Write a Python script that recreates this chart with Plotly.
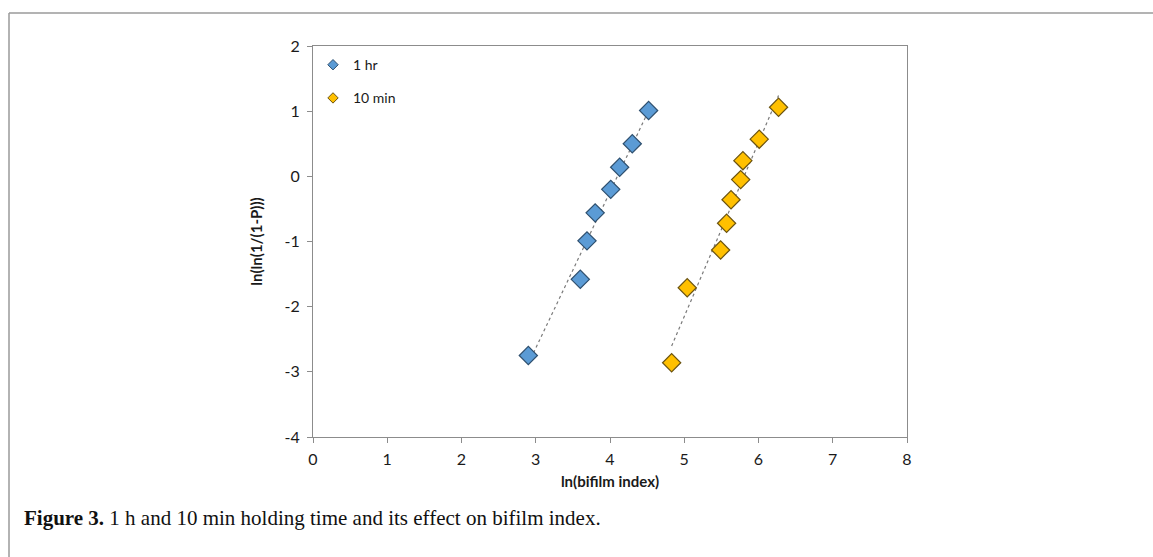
import numpy as np
import plotly.graph_objects as go

# ---- data ----
hr1_x = [2.90, 3.60, 3.69, 3.80, 4.01, 4.13, 4.30, 4.52]
hr1_y = [-2.75, -1.58, -0.99, -0.56, -0.20, 0.14, 0.50, 1.01]
min10_x = [4.83, 5.04, 5.49, 5.57, 5.63, 5.76, 5.79, 6.01, 6.27]
min10_y = [-2.86, -1.71, -1.13, -0.72, -0.36, -0.05, 0.24, 0.57, 1.06]
series_names = ["1 hr", "10 min"]
x_ticks = [0, 1, 2, 3, 4, 5, 6, 7, 8]
y_ticks = [-4, -3, -2, -1, 0, 1, 2]
x_title = "ln(bifilm index)"
y_title = "ln(ln(1/(1-P)))"
caption_bold = "Figure 3."
caption_text = " 1 h and 10 min holding time and its effect on bifilm index."

W, H = 1153, 557
L, R, T, B = 313, 907, 46, 437
BLUE, BLUE_EDGE = "#5B9BD5", "#2E4F6E"
ORANGE, ORANGE_EDGE = "#FFC000", "#6B5310"
FONT = "Lato, 'Open Sans', sans-serif"

def px_x(p):
    return (p - L) / (R - L)

def px_y(p):
    return (B - p) / (B - T)

fig = go.Figure()

def trend(xs, ys):
    m, b = np.polyfit(xs, ys, 1)
    xx = np.array([min(xs), max(xs)])
    return xx, m * xx + b

for xs, ys in [(hr1_x, hr1_y), (min10_x, min10_y)]:
    tx, ty = trend(xs, ys)
    fig.add_trace(go.Scatter(x=tx, y=ty, mode="lines", showlegend=False,
                             line=dict(color="#7a7a7a", width=1.2, dash="dot"),
                             hoverinfo="skip"))

for i, (xs, ys, name, c, e) in enumerate([(hr1_x, hr1_y, series_names[0], BLUE, BLUE_EDGE),
                                          (min10_x, min10_y, series_names[1], ORANGE, ORANGE_EDGE)]):
    fig.add_trace(go.Scatter(x=xs, y=ys, mode="markers", name=name, showlegend=False,
                             marker=dict(symbol="diamond", size=14, color=c,
                                         line=dict(color=e, width=1.2))))
    fig.add_trace(go.Scatter(x=[None], y=[None], mode="markers", name=name,
                             legendgroup="g%d" % i,
                             marker=dict(symbol="diamond", size=8, color=c,
                                         line=dict(color=e, width=1))))

axis_common = dict(showgrid=False, zeroline=False, showline=True, linecolor="#8c8c8c",
                   linewidth=1, mirror=True, ticks="outside", ticklen=5, tickcolor="#8c8c8c",
                   tickfont=dict(family=FONT, size=16, color="#1a1a1a"))

fig.update_xaxes(range=[0, 8], tickvals=x_ticks, ticktext=[str(v) for v in x_ticks],
                 ticklabelstandoff=3, **axis_common,
                 title=dict(text="<b>" + x_title + "</b>", standoff=9,
                            font=dict(family=FONT, size=15, color="#1a1a1a")))
fig.update_yaxes(range=[-4, 2], tickvals=y_ticks, ticktext=[str(v) for v in y_ticks],
                 ticklabelstandoff=4, **axis_common,
                 title=dict(text="<b>" + y_title + "</b>", standoff=18,
                            font=dict(family=FONT, size=15, color="#1a1a1a")))

fig.update_layout(
    width=W, height=H,
    margin=dict(l=L, r=W - R, t=T, b=H - B),
    paper_bgcolor="white", plot_bgcolor="white",
    showlegend=True,
    legend=dict(x=0.0, y=0.992, xanchor="left", yanchor="top",
                bgcolor="rgba(0,0,0,0)", tracegroupgap=12, itemwidth=30,
                traceorder="grouped",
                font=dict(family=FONT, size=14, color="#1a1a1a")),
    shapes=[
        dict(type="line", xref="paper", yref="paper",
             x0=px_x(9), x1=px_x(W + 5), y0=px_y(13), y1=px_y(13),
             line=dict(color="#9a9a9a", width=1.5)),
        dict(type="line", xref="paper", yref="paper",
             x0=px_x(9), x1=px_x(9), y0=px_y(13), y1=px_y(H + 5),
             line=dict(color="#9a9a9a", width=1.5)),
    ],
    annotations=[
        dict(xref="paper", yref="paper", x=px_x(22), y=px_y(518),
             xanchor="left", yanchor="middle", showarrow=False,
             text="<b>" + caption_bold + "</b>" + caption_text,
             font=dict(family="'Liberation Serif', 'DejaVu Serif', serif", size=21, color="#111")),
    ],
)

fig.write_html("out.html", config={"displayModeBar": False},
               post_script="document.body.style.margin='0';document.body.style.overflow='hidden';")
